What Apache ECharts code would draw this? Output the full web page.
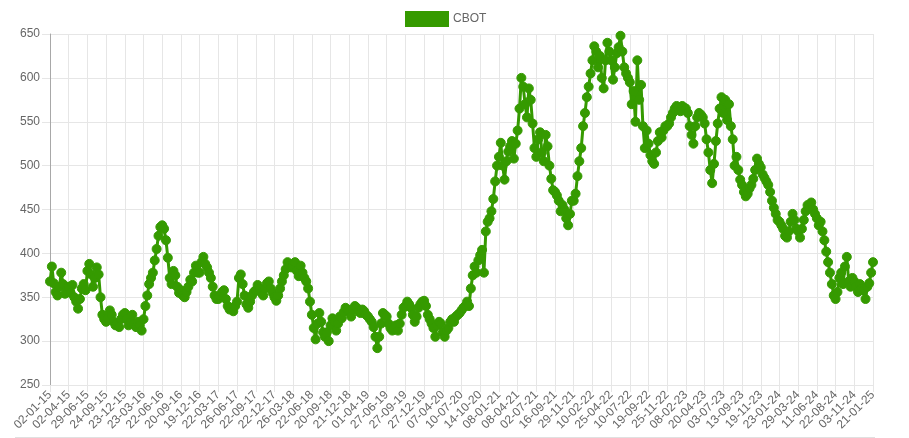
<!DOCTYPE html>
<html>
<head>
<meta charset="utf-8">
<script src="https://cdn.jsdelivr.net/npm/echarts@6/dist/echarts.min.js"></script>
<style>
html,body{margin:0;padding:0;background:#fff;}
#chart{width:909px;height:438px;}
</style>
</head>
<body>
<div id="chart"></div>
<script>
// Tick labels (one per 10 data points)
const tickLabels = ["02-01-15","02-04-15","29-06-15","24-09-15","23-12-15","23-03-16","22-06-16","20-09-16","19-12-16","22-03-17","26-06-17","22-09-17","22-12-17","26-03-18","22-06-18","20-09-18","21-12-18","01-04-19","27-06-19","27-09-19","27-12-19","07-04-20","10-07-20","14-10-20","08-01-21","08-04-21","02-07-21","16-09-21","29-11-21","10-02-22","25-04-22","10-07-22","19-09-22","25-11-22","08-02-23","20-04-23","03-07-23","13-09-23","19-11-23","23-01-24","29-03-24","11-06-24","22-08-24","03-11-24","21-01-25"];
const pointsPerTick = 10;
const seriesName = "CBOT";
// CBOT values
const cbot2015_16 = [368,385,366,356,352,362,378,365,354,360, 362,355,364,350,345,337,348,360,365,358, 380,388,376,362,372,384,376,350,330,325, 322,326,335,330,322,318,320,316,325,330, 332,325,318,322,330,320,316,322,318,312, 325,340,352,365,372,378,392,405,420,430, 432,428,415,395,372,365,380,375,362,355, 358,352,350,356,362,370,368,378,386,378];
const cbot2017_18 = [378,390,396,388,384,378,372,362,352,348, 348,352,356,358,348,340,336,338,334,340, 345,372,376,365,352,342,338,345,352,356, 358,364,360,355,352,360,366,368,360,355, 350,346,352,360,368,375,382,390,386,384, 385,390,380,374,386,378,372,368,360,345, 330,315,302,320,332,322,310,305,310,300, 318,326,322,312,320,328,326,333,338,336];
const cbot2019_20 = [334,328,336,340,338,334,332,336,334,330, 328,325,322,316,305,292,305,320,332,330, 328,320,315,312,314,318,312,320,330,338, 340,345,342,338,330,322,328,338,342,345, 346,340,330,325,320,315,305,318,322,320, 310,305,312,315,322,325,322,328,330,332, 335,338,340,345,340,360,375,385,378,392];
const cbot2021_22 = [398,404,378,425,436,440,448,462,482,500, 510,526,500,484,505,516,522,528,508,525, 540,565,600,590,570,555,588,575,548,520, 510,530,538,515,505,535,522,500,485,472, 470,466,460,448,455,450,440,432,445,460, 460,468,488,505,520,545,560,578,590,605, 620,636,630,612,625,600,588,620,640,630, 620,598,612,628,635,648,630,612,605,600, 595,570,585,550,620,575,592,545,520,540];
const cbot2022_23 = [525,512,505,502,515,528,538,532,540,545, 545,548,555,560,565,568,566,562,568,566, 565,560,545,535,525,545,555,560,558,555, 548,530,515,495,480,502,528,548,565,578, 560,575,552,570,545,530,500,510,495,484, 478,470,465,468,474,478,485,495,508,502];
const cbot2024_25 = [498,490,486,482,478,470,460,452,445,438, 436,432,428,420,418,425,436,445,438,428, 425,418,428,438,448,455,452,458,450,445, 440,432,436,425,415,402,390,378,365,352, 348,356,372,378,365,385,396,368,362,372, 368,362,356,365,360,358,348,362,366,378, 390];

const values = [].concat(cbot2015_16, cbot2017_18, cbot2019_20, cbot2021_22, cbot2022_23, cbot2024_25);
const categories = values.map((v, i) => String(i));

const green = '#359a00';
const gridColor = '#e6e6e6';
const textColor = '#666';
const fontFamily = '"Liberation Sans", Arial, Helvetica, sans-serif';
const showTick = (i) => i % pointsPerTick === 0;

const chart = echarts.init(document.getElementById('chart'), null, {renderer: 'canvas'});
chart.setOption({
  animation: false,
  legend: {
    left: 405, top: 11, padding: 0,
    itemWidth: 42, itemHeight: 14, itemGap: 10,
    icon: 'rect',
    textStyle: {color: textColor, fontSize: 12, fontFamily: fontFamily},
    data: [seriesName]
  },
  grid: {left: 50, right: 36, top: 34, bottom: 53, containLabel: false},
  xAxis: {
    type: 'category',
    data: categories,
    boundaryGap: false,
    axisLine: {show: true, lineStyle: {color: gridColor}},
    axisTick: {show: true, interval: showTick, length: 7, lineStyle: {color: gridColor}},
    splitLine: {show: true, interval: showTick, lineStyle: {color: gridColor}},
    axisLabel: {
      interval: showTick,
      rotate: 45,
      margin: 8,
      color: textColor,
      fontSize: 12,
      fontFamily: fontFamily,
      formatter: (v, i) => tickLabels[Math.round(i / pointsPerTick)] || ''
    }
  },
  yAxis: {
    type: 'value',
    min: 250, max: 650, interval: 50,
    axisLine: {show: true, lineStyle: {color: '#a8a8a8'}},
    axisTick: {show: true, length: 8, lineStyle: {color: gridColor}},
    splitLine: {show: true, lineStyle: {color: gridColor}},
    axisLabel: {color: textColor, fontSize: 12, fontFamily: fontFamily, margin: 10}
  },
  graphic: [{
    type: 'line', silent: true,
    shape: {x1: 15, y1: 437.5, x2: 875, y2: 437.5},
    style: {stroke: '#e0e0e0', lineWidth: 1}
  }],
  series: [{
    name: seriesName,
    type: 'line',
    data: values,
    color: green,
    symbol: 'circle',
    symbolSize: 9,
    showAllSymbol: true,
    lineStyle: {width: 3, color: green},
    itemStyle: {color: green, borderColor: green, borderWidth: 1}
  }]
});
</script>
</body>
</html>
